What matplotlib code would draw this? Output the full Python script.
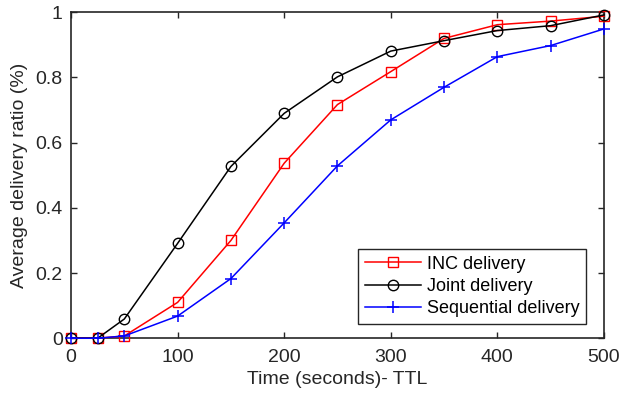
import numpy as np
import matplotlib
matplotlib.use("Agg")
import matplotlib.pyplot as plt

plt.rcParams['font.family'] = ['Liberation Sans', 'DejaVu Sans']

ttl = [0, 25, 50, 100, 150, 200, 250, 300, 350, 400, 450, 500]
inc = [0, 0, 0.007, 0.110, 0.300, 0.537, 0.717, 0.818, 0.920, 0.962, 0.973, 0.988]
joint = [0, 0, 0.059, 0.291, 0.527, 0.690, 0.802, 0.881, 0.913, 0.944, 0.959, 0.992]
seq = [0, 0, 0.007, 0.068, 0.183, 0.354, 0.529, 0.670, 0.770, 0.864, 0.898, 0.949]

fig = plt.figure(figsize=(6.19, 3.97), dpi=100)
ax = fig.add_axes([0.1147, 0.148, 0.861, 0.821])

ax.plot(ttl, inc, color="red", marker="s", markersize=6.5, markerfacecolor="none",
        linewidth=1.1, label="INC delivery", clip_on=False, zorder=3)
ax.plot(ttl, joint, color="black", marker="o", markersize=7.5, markerfacecolor="none",
        linewidth=1.1, label="Joint delivery", clip_on=False, zorder=3)
ax.plot(ttl, seq, color="blue", marker="+", markersize=9, markeredgewidth=1.1,
        linewidth=1.1, label="Sequential delivery", clip_on=False, zorder=3)

ax.set_xlim(0, 500)
ax.set_ylim(0, 1)
ax.set_xticks([0, 100, 200, 300, 400, 500])
ax.set_yticks([0, 0.2, 0.4, 0.6, 0.8, 1.0])
ax.set_yticklabels(["0", "0.2", "0.4", "0.6", "0.8", "1"])
ax.tick_params(direction="in", top=True, right=True, length=4.5, width=1.0,
               labelsize=14, colors="#262626", pad=6)
ax.tick_params(axis="x", pad=8)
for s in ax.spines.values():
    s.set_linewidth(1.2)
    s.set_color("#262626")

ax.set_xlabel("Time (seconds)- TTL", fontsize=14, color="#262626", labelpad=3)
ax.set_ylabel("Average delivery ratio (%)", fontsize=14, color="#262626", labelpad=5)

leg = ax.legend(loc="lower right", bbox_to_anchor=(0.9666, 0.043), fontsize=13,
                frameon=True, fancybox=False, edgecolor="#262626", framealpha=1,
                borderpad=0.38, labelspacing=0.3, handlelength=3.1,
                handletextpad=0.3, borderaxespad=0)
leg.get_frame().set_linewidth(1.0)
leg.set_zorder(5)

fig.savefig("out.png", dpi=100)
